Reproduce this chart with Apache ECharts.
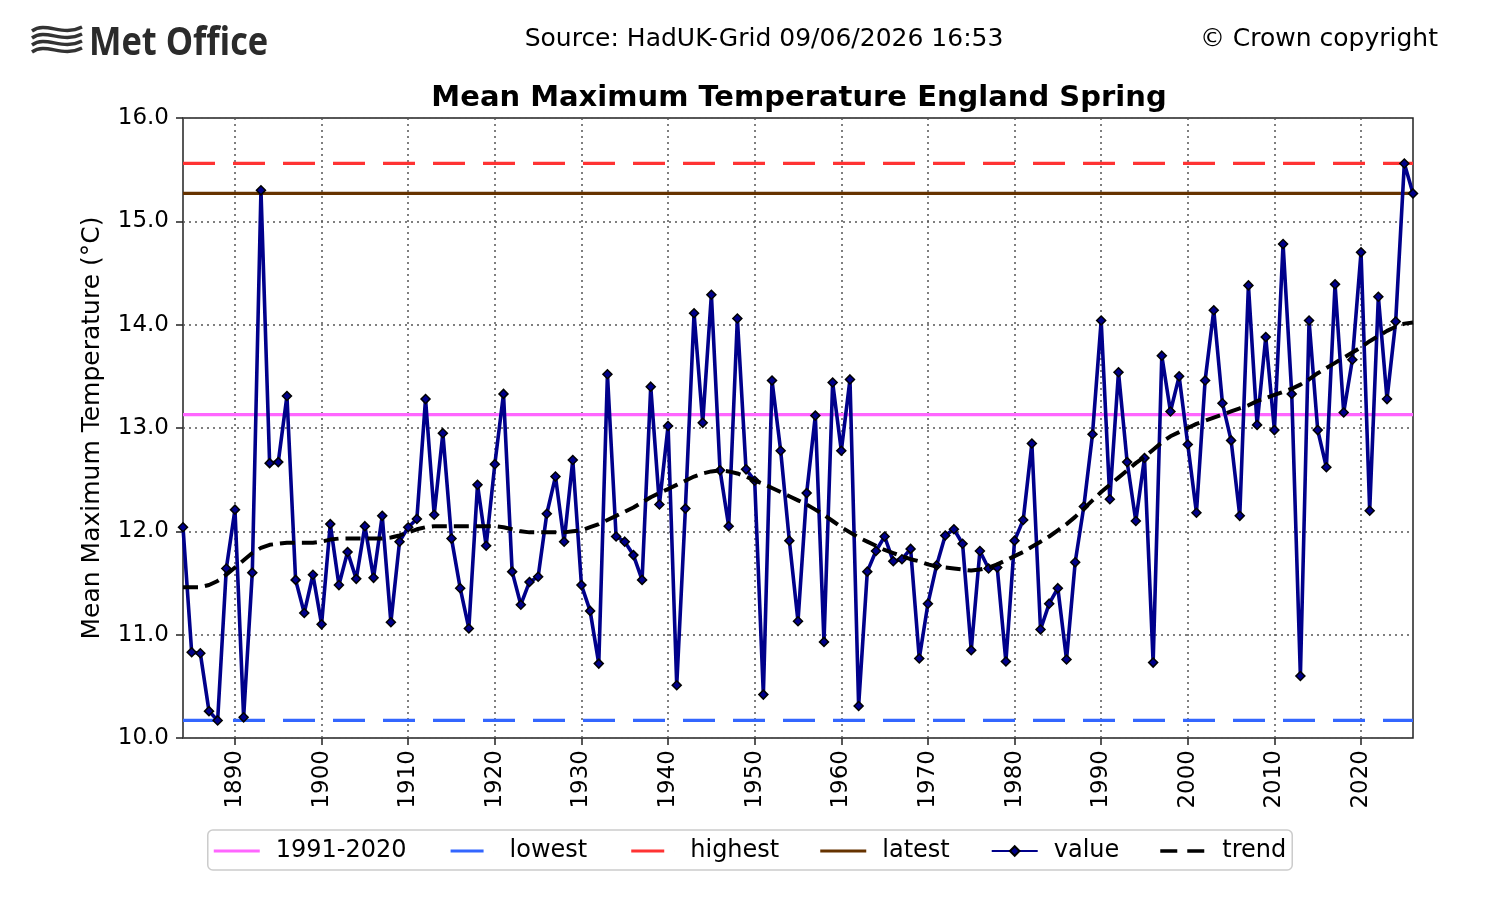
<!DOCTYPE html>
<html>
<head>
<meta charset="utf-8">
<title>Mean Maximum Temperature England Spring</title>
<script src="https://cdn.jsdelivr.net/npm/echarts@6/dist/echarts.min.js"></script>
<style>
  html, body { margin: 0; padding: 0; background: #fff; }
  #chart { width: 1500px; height: 900px; }
</style>
</head>
<body>
<div id="chart"></div>
<script>
// 年份 1884 - 2026
const years = []
for (let y = 1884; y <= 2026; y++) years.push(String(y))

// 每年数值 (°C)
const values = [
  12.04, 10.83, 10.82, 10.26, 10.17, 11.64,
  12.21, 10.20, 11.60, 15.30, 12.66, 12.67, 13.31, 11.53, 11.21, 11.58,
  11.10, 12.07, 11.48, 11.80, 11.54, 12.05, 11.55, 12.15, 11.12, 11.90,
  12.04, 12.12, 13.28, 12.16, 12.95, 11.93, 11.45, 11.06, 12.45, 11.86,
  12.65, 13.33, 11.61, 11.29, 11.51, 11.56, 12.17, 12.53, 11.90, 12.69,
  11.48, 11.23, 10.72, 13.52, 11.95, 11.90, 11.77, 11.53, 13.40, 12.26,
  13.02, 10.51, 12.22, 14.11, 13.05, 14.29, 12.59, 12.05, 14.06, 12.60,
  12.49, 10.42, 13.46, 12.78, 11.91, 11.13, 12.37, 13.12, 10.93, 13.44,
  12.78, 13.47, 10.31, 11.61, 11.81, 11.95, 11.71, 11.73, 11.83, 10.77,
  11.30, 11.67, 11.96, 12.02, 11.88, 10.85, 11.81, 11.64, 11.65, 10.74,
  11.91, 12.11, 12.85, 11.05, 11.30, 11.45, 10.76, 11.70, 12.24, 12.94,
  14.04, 12.31, 13.54, 12.67, 12.10, 12.71, 10.73, 13.70, 13.16, 13.50,
  12.84, 12.18, 13.46, 14.14, 13.24, 12.88, 12.15, 14.38, 13.03, 13.88,
  12.98, 14.78, 13.33, 10.60, 14.04, 12.98, 12.62, 14.39, 13.15, 13.66,
  14.70, 12.20, 14.27, 13.28, 14.03, 15.56, 15.27
]

// 趋势线
const trend = [
  11.46, 11.46, 11.46, 11.48, 11.52, 11.58,
  11.65, 11.72, 11.79, 11.84, 11.87, 11.88, 11.89, 11.89, 11.89, 11.89,
  11.90, 11.92, 11.93, 11.93, 11.93, 11.93, 11.93, 11.93, 11.94, 11.96,
  11.99, 12.02, 12.04, 12.05, 12.05, 12.05, 12.05, 12.05, 12.05, 12.05,
  12.05, 12.04, 12.02, 12.00, 11.99, 11.99, 11.99, 11.99, 11.99, 12.00,
  12.01, 12.04, 12.07, 12.11, 12.15, 12.19, 12.23, 12.28, 12.33, 12.37,
  12.41, 12.45, 12.49, 12.53, 12.56, 12.58, 12.59, 12.58, 12.56, 12.53,
  12.49, 12.46, 12.42, 12.38, 12.34, 12.30, 12.26, 12.21, 12.16, 12.10,
  12.04, 11.99, 11.94, 11.90, 11.86, 11.82, 11.79, 11.76, 11.73, 11.71,
  11.68, 11.66, 11.65, 11.64, 11.63, 11.62, 11.63, 11.65, 11.68, 11.72,
  11.76, 11.80, 11.85, 11.90, 11.95, 12.01, 12.07, 12.14, 12.22, 12.30,
  12.38, 12.45, 12.52, 12.59, 12.66, 12.72, 12.79, 12.86, 12.92, 12.96,
  13.00, 13.04, 13.07, 13.10, 13.13, 13.16, 13.19, 13.22, 13.26, 13.29,
  13.32, 13.35, 13.38, 13.42, 13.47, 13.53, 13.58, 13.63, 13.68, 13.73,
  13.78, 13.84, 13.89, 13.94, 13.98, 14.01, 14.02
]

// 参考线
const baselineMean = 13.13   // 1991-2020
const lowestValue = 10.17
const highestValue = 15.56
const latestValue = 15.27

const yTicks = [10, 11, 12, 13, 14, 15, 16]

const firstYear = years[0]
const lastYear = years[years.length - 1]
const flatLine = v => [[firstYear, v], [lastYear, v]]

const FONT = 'DejaVu Sans'
const decade = (index, value) => Number(value) % 10 === 0

// 图例图标 (实线 / 虚线)
const ICON_SOLID = 'path://M0,0H46V3H0Z'
const ICON_DASH = 'path://M0,0H0.01V3H0Z M3,0H36V3H3Z M46,0H46.01V3H46Z'
const ICON_TREND = 'path://M0,0H17V3.6H0Z M27,0H44V3.6H27Z M46,0H46.01V3.6H46Z'

const myChart = echarts.init(document.querySelector('#chart'))

// Met Office 标志的波浪
const waves = [29, 36, 43, 50].map(y => ({
  type: 'bezierCurve',
  shape: { x1: 32, y1: y + 2, cpx1: 46, cpy1: y - 8, cpx2: 62, cpy2: y + 8, x2: 82, y2: y - 2 },
  style: { stroke: '#333', lineWidth: 3.4, fill: null }
}))

const option = {
  animation: false,
  backgroundColor: '#fff',
  textStyle: { fontFamily: FONT },
  graphic: [
    ...waves,
    {
      type: 'text',
      x: 89,
      y: 44,
      scaleX: 0.86,
      style: { x: 0, y: 0, text: 'Met Office', font: 'bold 40px "Open Sans"', fill: '#2b2b2b', textVerticalAlign: 'middle' }
    },
    {
      type: 'text',
      style: { x: 764, y: 39, text: 'Source: HadUK-Grid 09/06/2026 16:53', font: '25px "DejaVu Sans"', fill: '#000', textAlign: 'center', textVerticalAlign: 'middle' }
    },
    {
      type: 'text',
      style: { x: 1438, y: 39, text: '© Crown copyright', font: '25px "DejaVu Sans"', fill: '#000', textAlign: 'right', textVerticalAlign: 'middle' }
    },
    {
      type: 'text',
      style: { x: 799, y: 98, text: 'Mean Maximum Temperature England Spring', font: 'bold 29px "DejaVu Sans"', fill: '#000', textAlign: 'center', textVerticalAlign: 'middle' }
    }
  ],
  grid: {
    show: true,
    left: 183,
    right: 87,
    top: 118,
    bottom: 162,
    borderColor: '#222',
    borderWidth: 1.5,
    backgroundColor: 'transparent'
  },
  legend: {
    left: 'center',
    top: 830,
    itemWidth: 46,
    itemHeight: 12,
    itemGap: 41,
    padding: [9, 6, 7, 6],
    borderColor: '#ccc',
    borderWidth: 1.5,
    borderRadius: 5,
    textStyle: { fontFamily: FONT, fontSize: 24, color: '#000', padding: [0, 0, 0, 11] },
    data: [
      { name: '1991-2020', icon: ICON_SOLID },
      { name: 'lowest', icon: ICON_DASH },
      { name: 'highest', icon: ICON_DASH },
      { name: 'latest', icon: ICON_SOLID },
      { name: 'value' },
      { name: 'trend', icon: ICON_TREND }
    ]
  },
  xAxis: {
    type: 'category',
    boundaryGap: false,
    data: years,
    axisLine: { show: false },
    axisTick: { show: true, interval: decade, length: 7, lineStyle: { color: '#222', width: 1.5 } },
    axisLabel: { interval: decade, rotate: 90, margin: 12, fontSize: 23, color: '#000', fontFamily: FONT },
    splitLine: { show: true, interval: decade, lineStyle: { type: [2, 4], color: '#555', width: 1.5 } }
  },
  yAxis: {
    type: 'value',
    min: yTicks[0],
    max: yTicks[yTicks.length - 1],
    interval: 1,
    name: 'Mean Maximum Temperature (°C)',
    nameLocation: 'middle',
    nameGap: 78,
    nameTextStyle: { fontSize: 25, color: '#000', fontFamily: FONT },
    axisLine: { show: false },
    axisTick: { show: true, length: 7, lineStyle: { color: '#222', width: 1.5 } },
    axisLabel: { fontSize: 23, margin: 14, color: '#000', fontFamily: FONT, formatter: v => v.toFixed(1) },
    splitLine: { show: true, lineStyle: { type: [2, 4], color: '#555', width: 1.5 } }
  },
  series: [
    {
      name: '1991-2020',
      type: 'line',
      data: flatLine(baselineMean),
      symbol: 'none',
      lineStyle: { color: '#ff66ff', width: 3.2 },
      itemStyle: { color: '#ff66ff' },
      z: 1
    },
    {
      name: 'lowest',
      type: 'line',
      data: flatLine(lowestValue),
      symbol: 'none',
      lineStyle: { color: '#3366ff', width: 3.2, type: [32, 18] },
      itemStyle: { color: '#3366ff' },
      z: 1
    },
    {
      name: 'highest',
      type: 'line',
      data: flatLine(highestValue),
      symbol: 'none',
      lineStyle: { color: '#ff3333', width: 3.2, type: [32, 18] },
      itemStyle: { color: '#ff3333' },
      z: 1
    },
    {
      name: 'latest',
      type: 'line',
      data: flatLine(latestValue),
      symbol: 'none',
      lineStyle: { color: '#663300', width: 3.2 },
      itemStyle: { color: '#663300' },
      z: 1
    },
    {
      name: 'value',
      type: 'line',
      data: values,
      symbol: 'diamond',
      symbolSize: 9,
      showAllSymbol: true,
      lineStyle: { color: '#00008b', width: 3.6 },
      itemStyle: { color: '#00008b', borderColor: '#000', borderWidth: 1.5 },
      z: 3
    },
    {
      name: 'trend',
      type: 'line',
      data: trend,
      symbol: 'none',
      lineStyle: { color: '#000', width: 4, type: [15, 7] },
      itemStyle: { color: '#000' },
      z: 4
    }
  ]
}

myChart.setOption(option)
</script>
</body>
</html>
